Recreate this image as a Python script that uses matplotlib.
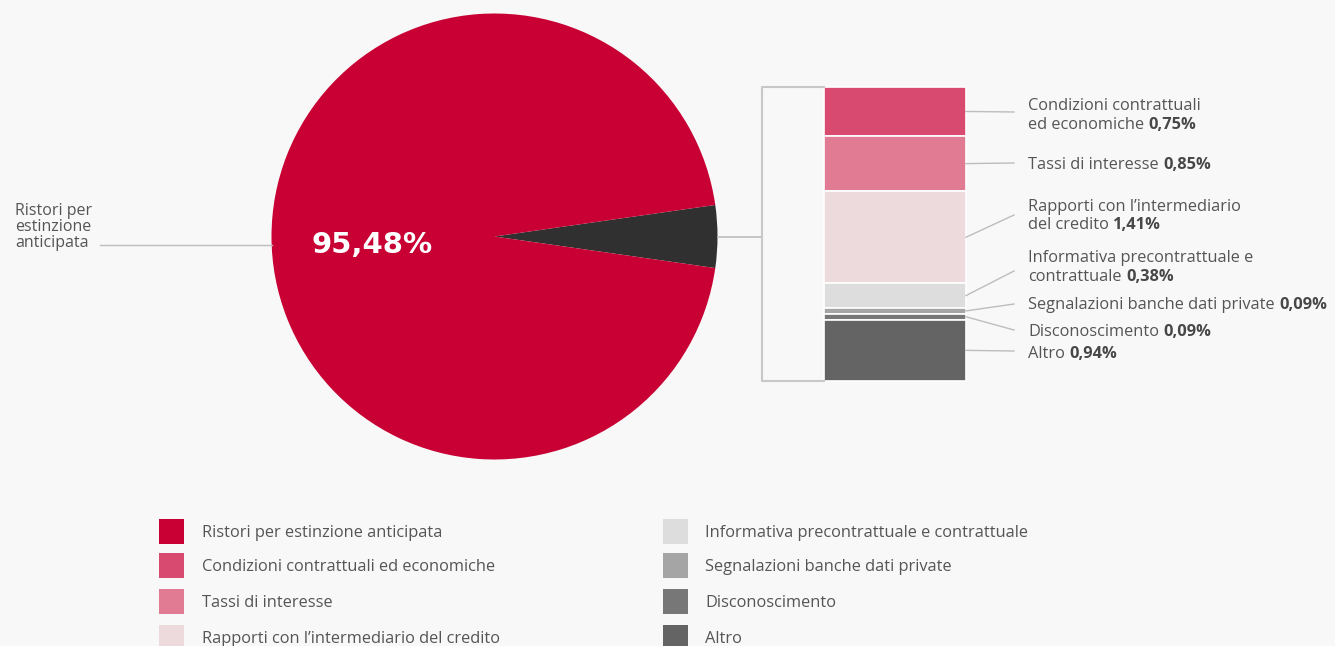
import matplotlib
matplotlib.use("Agg")
import matplotlib.pyplot as plt
from matplotlib.patches import Rectangle

plt.rcParams['font.family'] = ['Open Sans', 'DejaVu Sans']

# ---- data ----
main_label = "Ristori per estinzione anticipata"
main_value = 95.48
sub_labels = ["Condizioni contrattuali ed economiche", "Tassi di interesse",
              "Rapporti con l\u2019intermediario del credito",
              "Informativa precontrattuale e contrattuale",
              "Segnalazioni banche dati private", "Disconoscimento", "Altro"]
sub_values = [0.75, 0.85, 1.41, 0.38, 0.09, 0.09, 0.94]
# label text split into lines (last line gets the bold value)
sub_label_lines = [["Condizioni contrattuali", "ed economiche"],
                   ["Tassi di interesse"],
                   ["Rapporti con l\u2019intermediario", "del credito"],
                   ["Informativa precontrattuale e", "contrattuale"],
                   ["Segnalazioni banche dati private"],
                   ["Disconoscimento"],
                   ["Altro"]]

main_color = "#C80034"
other_color = "#303030"
sub_colors = ["#D84A70", "#E07B93", "#EDDADD", "#DDDDDD", "#A5A5A5", "#777777", "#646464"]

def fmt(v):
    return f"{v:.2f}".replace(".", ",") + "%"

# ---- figure ----
W, H = 1335, 646
bg = "#F8F8F8"
txt = "#555555"
bold_c = "#474747"
line_c = "#BDBDBD"
fig = plt.figure(figsize=(W / 100, H / 100), dpi=100, facecolor=bg)
ax = fig.add_axes([0, 0, 1, 1])
ax.set_facecolor(bg)

# pie
cx, cy, r = 494.5, 236.5, 223
other_value = round(100 - main_value, 2)
ax.pie([other_value, main_value], colors=[other_color, main_color],
       startangle=-other_value / 2 * 3.6, center=(cx, cy), radius=r,
       wedgeprops=dict(linewidth=0))

ax.set_xlim(0, W)
ax.set_ylim(H, 0)
ax.set_aspect('auto')
ax.axis('off')

ax.text(372, 245, fmt(main_value), color="white", fontsize=21, fontweight="bold",
        family="DejaVu Sans", ha="center", va="center")

# left label
ax.text(15, 227, "Ristori per\nestinzione\nanticipata", color=txt, fontsize=11.5,
        ha="left", va="center", linespacing=0.98)
ax.plot([100, cx - r], [245, 245], color=line_c, lw=1)

# connector from pie to bracket
bx0, bx1 = 824, 966
btop, bbot = 87, 381
brx = 762
ax.plot([cx + r, brx], [cy, cy], color=line_c, lw=1.2)
ax.plot([bx0, brx, brx, bx0], [btop, btop, bbot, bbot], color="#C8C8C8", lw=1.5)

# stacked bar
total = sum(sub_values)
scale = (bbot - btop) / total
cum = 0.0
mids = []
for v, c in zip(sub_values, sub_colors):
    ax.bar((bx0 + bx1) / 2, v * scale, width=bx1 - bx0, bottom=btop + cum * scale,
           color=c, edgecolor="white", linewidth=1.2)
    mids.append(btop + (cum + v / 2) * scale)
    cum += v

renderer = fig.canvas.get_renderer()

# right labels
label_x = 1028
dy = 2
line_ys = [[104, 123], [163], [205, 223], [256, 275], [303], [330], [352]]
conn_ys = [112, 163, 215, 271, 304, 330, 351]
fs = 11.8
for lines, ys, v, m, cyy in zip(sub_label_lines, line_ys, sub_values, mids, conn_ys):
    ax.plot([bx1, 1014], [m, cyy], color=line_c, lw=1)
    for i, (ln, yy) in enumerate(zip(lines, ys)):
        t = ax.text(label_x, yy + dy, ln, color=txt, fontsize=fs, ha="left", va="center")
        if i == len(lines) - 1:
            wpx = t.get_window_extent(renderer).width
            ax.text(label_x + wpx + 4.5, yy + dy, fmt(v), color=bold_c, fontsize=fs,
                    fontweight="bold", ha="left", va="center")

# legend
all_labels = [main_label] + sub_labels
all_colors = [main_color] + sub_colors
row_ys = [531, 565, 601, 637]
col_sq_x = [159, 663]
col_tx_x = [202, 705]
sq = 25
for i, (lab, col) in enumerate(zip(all_labels, all_colors)):
    c = i // 4
    rr = i % 4
    yy = row_ys[rr]
    ax.add_patch(Rectangle((col_sq_x[c], yy - sq / 2), sq, sq, facecolor=col,
                           edgecolor="none"))
    ax.text(col_tx_x[c], yy + dy, lab, color=txt, fontsize=fs, ha="left", va="center")

fig.savefig("out.png", dpi=100, facecolor=bg)
